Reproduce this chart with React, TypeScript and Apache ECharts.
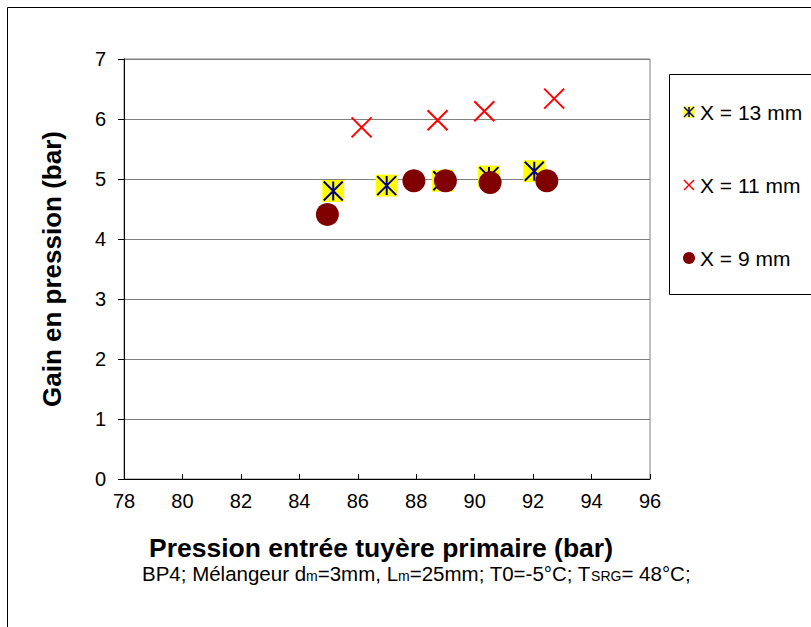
import React, { useEffect, useRef } from "react";
import * as echarts from "echarts";

const seriesNames = ["X = 13 mm", "X = 11 mm", "X = 9 mm"];
const x13 = [85.16, 86.99, 88.91, 90.49, 92.04];
const y13 = [4.8, 4.89, 4.97, 5.04, 5.13];
const x11 = [86.13, 88.73, 90.33, 92.72];
const y11 = [5.86, 5.98, 6.13, 6.34];
const x9 = [84.96, 87.92, 89.0, 90.53, 92.47];
const y9 = [4.41, 4.97, 4.97, 4.94, 4.97];

const xTitle = "Pression entrée tuyère primaire (bar)";
const yTitle = "Gain en pression (bar)";

const FONT = "'Liberation Sans', Arial, sans-serif";

const pairs = (xs: number[], ys: number[]) => xs.map((x, i) => [x, ys[i]]);

const ASTER = "path://M0,0L20,20M20,0L0,20M10,0L10,20";
const CROSS = "path://M0,0L20,20M20,0L0,20";

export default function App() {
  const ref = useRef<HTMLDivElement>(null);
  useEffect(() => {
    if (!ref.current) return;
    const chart = echarts.init(ref.current, null, { renderer: "svg" });
    const lx = 689;
    const ly = [112, 185, 258];
    const h = 5;
    const legendGraphics: any[] = [
      {
        type: "rect",
        shape: { x: 669.5, y: 74.5, width: 160, height: 220 },
        style: { fill: "#fff", stroke: "#000", lineWidth: 1 },
        z: 10,
      },
      {
        type: "rect",
        shape: { x: lx - h - 0.5, y: ly[0] - h - 0.5, width: 2 * h + 1, height: 2 * h + 1 },
        style: { fill: "#FFFF00" },
        z: 11,
      },
      {
        type: "line",
        shape: { x1: lx - h, y1: ly[0] - h, x2: lx + h, y2: ly[0] + h },
        style: { stroke: "#000080", lineWidth: 1.5 },
        z: 12,
      },
      {
        type: "line",
        shape: { x1: lx + h, y1: ly[0] - h, x2: lx - h, y2: ly[0] + h },
        style: { stroke: "#000080", lineWidth: 1.5 },
        z: 12,
      },
      {
        type: "line",
        shape: { x1: lx, y1: ly[0] - h, x2: lx, y2: ly[0] + h },
        style: { stroke: "#000080", lineWidth: 1.5 },
        z: 12,
      },
      {
        type: "line",
        shape: { x1: lx - h, y1: ly[1] - h, x2: lx + h, y2: ly[1] + h },
        style: { stroke: "#FF0000", lineWidth: 1.5 },
        z: 12,
      },
      {
        type: "line",
        shape: { x1: lx + h, y1: ly[1] - h, x2: lx - h, y2: ly[1] + h },
        style: { stroke: "#FF0000", lineWidth: 1.5 },
        z: 12,
      },
      {
        type: "circle",
        shape: { cx: lx, cy: ly[2], r: 6 },
        style: { fill: "#800000" },
        z: 12,
      },
      ...seriesNames.map((n, i) => ({
        type: "text",
        x: 700,
        y: ly[i],
        style: {
          text: n,
          fontFamily: FONT,
          fontSize: 21,
          fill: "#000",
          verticalAlign: "middle",
          align: "left",
        },
        z: 12,
      })),
    ];

    chart.setOption({
      animation: false,
      backgroundColor: "#fff",
      grid: {
        left: 124,
        top: 59,
        width: 526,
        height: 420,
        show: true,
        borderColor: "#808080",
        borderWidth: 1,
        backgroundColor: "#fff",
      },
      xAxis: {
        type: "value",
        min: 78,
        max: 96,
        interval: 2,
        name: xTitle,
        nameLocation: "middle",
        nameGap: 56,
        nameTextStyle: {
          fontFamily: FONT,
          fontSize: 26.5,
          lineHeight: 26,
          fontWeight: "bold",
          color: "#000",
          verticalAlign: "top",
          padding: [0, 12, 0, 0],
        },
        axisLine: { show: true, onZero: false, lineStyle: { color: "#000", width: 1 } },
        axisTick: { show: true, inside: true, length: 5, lineStyle: { color: "#000" } },
        axisLabel: { fontFamily: FONT, fontSize: 20, color: "#000", margin: 12 },
        splitLine: { show: false },
      },
      yAxis: {
        type: "value",
        min: 0,
        max: 7,
        interval: 1,
        name: yTitle,
        nameLocation: "middle",
        nameGap: 59,
        nameRotate: 90,
        nameTextStyle: { fontFamily: FONT, fontSize: 26, fontWeight: "bold", color: "#000" },
        axisLine: { show: true, onZero: false, lineStyle: { color: "#000", width: 1 } },
        axisTick: { show: true, inside: false, length: 6, lineStyle: { color: "#000" } },
        axisLabel: { fontFamily: FONT, fontSize: 20, color: "#000", margin: 18 },
        splitLine: { show: true, lineStyle: { color: "#808080", width: 1 } },
      },
      legend: { show: false },
      series: [
        {
          name: seriesNames[0],
          type: "scatter",
          data: pairs(x13, y13),
          symbol: "rect",
          symbolSize: 22,
          itemStyle: { color: "#FFFF00", opacity: 1 },
          z: 2,
        },
        {
          name: seriesNames[0] + " *",
          type: "scatter",
          data: pairs(x13, y13),
          symbol: ASTER,
          symbolSize: 19,
          itemStyle: { color: "transparent", borderColor: "#000080", borderWidth: 2, opacity: 1 },
          z: 3,
        },
        {
          name: seriesNames[1],
          type: "scatter",
          data: pairs(x11, y11),
          symbol: CROSS,
          symbolSize: 20,
          itemStyle: { color: "transparent", borderColor: "#FF0000", borderWidth: 2, opacity: 1 },
          z: 4,
        },
        {
          name: seriesNames[2],
          type: "scatter",
          data: pairs(x9, y9),
          symbol: "circle",
          symbolSize: 23,
          itemStyle: { color: "#800000", opacity: 1 },
          z: 5,
        },
      ],
      graphic: [
        {
          type: "rect",
          shape: { x: 7.5, y: 7.5, width: 900, height: 700 },
          style: { fill: "none", stroke: "#000", lineWidth: 1 },
          z: -10,
          silent: true,
        },
        {
          type: "text",
          x: 142,
          y: 573,
          style: {
            text:
              "BP4; Mélangeur d{sub|m}=3mm, L{sub|m}=25mm; T0=-5°C; T{sub|SRG}= 48°C;",
            fontFamily: FONT,
            fontSize: 20.5,
            lineHeight: 20,
            fill: "#000",
            verticalAlign: "middle",
            align: "left",
            rich: {
              sub: { fontFamily: FONT, fontSize: 14, fill: "#000", verticalAlign: "bottom", lineHeight: 10, padding: [11, 0, 0, 0] },
            },
          },
        },
        ...legendGraphics,
      ],
    });
    return () => chart.dispose();
  }, []);
  return (
    <div
      ref={ref}
      style={{ position: "fixed", left: 0, top: 0, width: 811, height: 627 }}
    />
  );
}
